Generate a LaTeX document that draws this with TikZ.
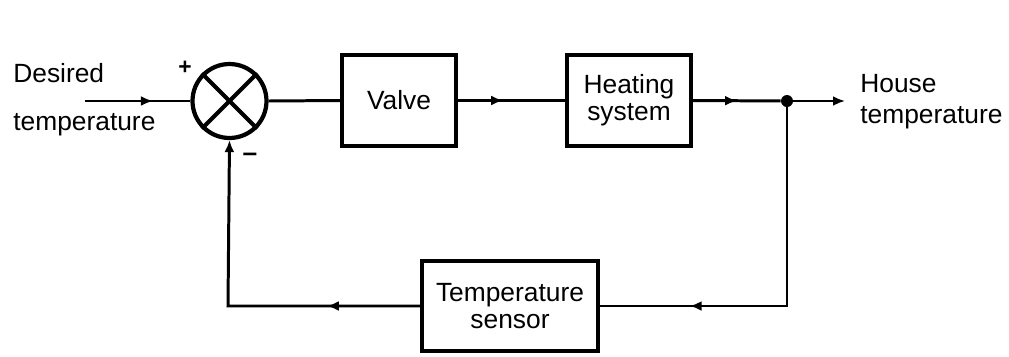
\documentclass[tikz,border=0pt]{standalone}
\usepackage{fontspec}
\setmainfont{Liberation Sans}
\usetikzlibrary{arrows.meta,decorations.markings}
\tikzset{
  blk/.style={draw, line width=2.4pt, rectangle, align=center, inner sep=0pt,
    font=\fontsize{15}{15.5}\selectfont},
  lbl/.style={inner sep=0pt, font=\fontsize{15}{17.5}\selectfont},
  conn/.style={line width=1.7pt},
  tip/.style={-{Latex[length=0.24cm,width=0.2cm]}},
  marrow/.style={postaction={decorate},decoration={markings,
    mark=at position #1 with {\arrow{Latex[length=0.24cm,width=0.2cm]}}}}
}
\begin{document}
\begin{tikzpicture}[x=0.02cm,y=-0.02cm]
\useasboundingbox (0,0) rectangle (1009,356);
% blocks
\node[draw, circle, line width=2.4pt, minimum size=1.48cm, inner sep=0pt] (sum) at (229.5,101) {};
\draw[line width=2.4pt] (sum.north west) -- (sum.south east);
\draw[line width=2.4pt] (sum.north east) -- (sum.south west);
\node[blk, minimum width=2.28cm, minimum height=1.82cm] (valve) at (399,100.5) {Valve};
\node[blk, minimum width=2.48cm, minimum height=1.82cm] (heat) at (629,100.5) {Heating\\system};
\node[blk, minimum width=3.52cm, minimum height=1.8cm] (sens) at (510,306) {Temperature\\sensor};
\node[circle, fill, inner sep=0pt, minimum size=0.24cm] (dot) at (787,101) {};
% coordinates
\coordinate (in) at (85,101);
\coordinate (out) at (845,101);
\coordinate (fr) at (787,306);
\coordinate (fl) at (228,306);
% labels
\node[lbl, anchor=base west] (l1) at (13,82) {Desired};
\node[lbl, anchor=base west] (l2) at (13,130) {temperature};
\node[lbl, anchor=base west] (l3) at (860,92) {House};
\node[lbl, anchor=base west] (l4) at (860,123) {temperature};
\node[lbl, font=\fontsize{13}{13}\bfseries] (plus) at (185,68) {+};
\node[lbl, font=\fontsize{15}{15}\bfseries] (minus) at (250,157) {–};
% connectors
\draw[conn, marrow=1.36cm] (in) -- (sum.west);
\draw[conn] (sum.east) -- (valve.west);
\draw[conn, marrow=0.9cm] (valve.east) -- (heat.west);
\draw[conn, marrow=0.88cm] (heat.east) -- (dot);
\draw[conn, tip] (dot) -- (out);
\draw[conn, marrow=5.92cm] (dot) -- (fr) -- (sens.east);
\draw[conn, marrow=1.86cm, tip] (sens.west) -- (fl) -- (sum.south);
\end{tikzpicture}
\end{document}
